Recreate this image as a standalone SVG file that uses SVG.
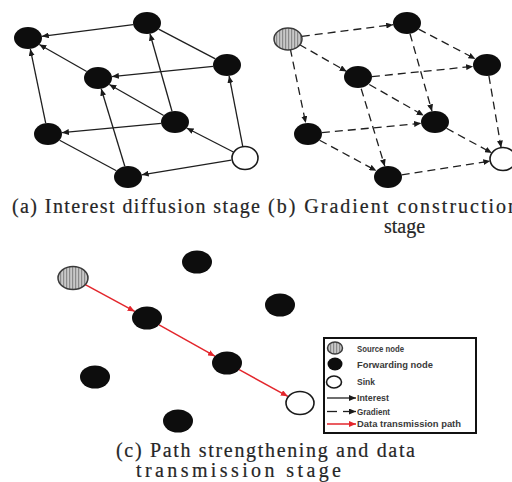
<svg xmlns="http://www.w3.org/2000/svg" width="512" height="482" viewBox="0 0 512 482">
<style>
.fw{fill:#0d0d0d}
.sink{fill:#fff;stroke:#1a1a1a;stroke-width:1.6}
.src{fill:url(#stripes);stroke:#3a3a3a;stroke-width:1.5}
.e{stroke:#1f1f1f;stroke-width:1.3;fill:none}
.ea{stroke:#1f1f1f;stroke-width:1.3;fill:none;marker-end:url(#ah)}
.ed{stroke:#1f1f1f;stroke-width:1.3;fill:none;stroke-dasharray:8 5;marker-end:url(#ah)}
.er{stroke:#e3262c;stroke-width:1.5;fill:none;marker-end:url(#ahr)}
.cap{font-family:"Liberation Serif","Times New Roman",serif;font-size:20px;fill:#262626;stroke:#262626;stroke-width:0.2}
.lg{font-family:"Liberation Sans",Arial,sans-serif;font-size:8.5px;font-weight:bold;fill:#3a3a3a}
</style>
<defs>
<pattern id="stripes" width="3" height="3" patternUnits="userSpaceOnUse">
<rect width="3" height="3" fill="#c8c8c8"/>
<rect width="1.2" height="3" fill="#8a8a8a"/>
</pattern>
<marker id="ah" markerWidth="8" markerHeight="6" refX="7" refY="3" orient="auto" markerUnits="userSpaceOnUse"><path d="M0,0 L7,3 L0,6 z" fill="#1a1a1a"/></marker>
<marker id="ahr" markerWidth="8" markerHeight="6" refX="7" refY="3" orient="auto" markerUnits="userSpaceOnUse"><path d="M0,0 L7,3 L0,6 z" fill="#e3262c"/></marker>
</defs>

<g id="connectors">
<!-- panel a -->
<line class="ea" x1="133.2" y1="24.7" x2="41.8" y2="36.3"/>
<line class="ea" x1="86.7" y1="71.5" x2="39.3" y2="44.5"/>
<line class="ea" x1="45.7" y1="123.1" x2="30.3" y2="48.9"/>
<line class="ea" x1="213.1" y1="66.4" x2="111.9" y2="76.6"/>
<line class="e" x1="158.6" y1="29.1" x2="215.4" y2="58.9"/>
<line class="ea" x1="172" y1="111.3" x2="150" y2="33.7"/>
<line class="ea" x1="163.7" y1="115.5" x2="109.3" y2="84.5"/>
<line class="ea" x1="161.1" y1="123.3" x2="61.9" y2="132.7"/>
<line class="ea" x1="124.8" y1="166.3" x2="101.2" y2="88.7"/>
<line class="e" x1="59.6" y1="140.2" x2="116.4" y2="170.8"/>
<line class="ea" x1="231.3" y1="160.2" x2="141.7" y2="174.8"/>
<line class="ea" x1="233.4" y1="152" x2="186.6" y2="128"/>
<line class="ea" x1="242.9" y1="147.1" x2="229.1" y2="75.9"/>
<!-- panel b -->
<line class="ed" x1="301.8" y1="36.3" x2="393.2" y2="24.7"/>
<line class="ed" x1="299.3" y1="44.5" x2="346.7" y2="71.5"/>
<line class="ed" x1="290.3" y1="48.9" x2="305.7" y2="123.1"/>
<line class="ed" x1="371.9" y1="76.6" x2="473.1" y2="66.4"/>
<line class="ed" x1="418.6" y1="29.1" x2="475.4" y2="58.9"/>
<line class="ed" x1="410" y1="33.7" x2="432" y2="111.3"/>
<line class="ed" x1="369.3" y1="84.5" x2="423.7" y2="115.5"/>
<line class="ed" x1="321.9" y1="132.7" x2="421.1" y2="123.3"/>
<line class="ed" x1="361.2" y1="88.7" x2="384.8" y2="166.3"/>
<line class="ed" x1="319.6" y1="140.2" x2="376.4" y2="170.8"/>
<line class="ed" x1="488.9" y1="75.9" x2="501.1" y2="147.6"/>
<line class="ed" x1="446.5" y1="128.3" x2="491.9" y2="153"/>
<line class="ed" x1="401.7" y1="174.8" x2="490.3" y2="161"/>
<!-- panel c -->
<line class="er" x1="85.3" y1="284.6" x2="134.7" y2="311.4"/>
<line class="er" x1="159.1" y1="324.8" x2="214.9" y2="356.2"/>
<line class="er" x1="239.2" y1="369.7" x2="287.8" y2="396.3"/>
</g>

<!-- panel a nodes -->
<g id="a1"><ellipse class="fw" cx="28" cy="38" rx="14" ry="11"/></g>
<g id="a2"><ellipse class="fw" cx="147" cy="23" rx="14" ry="11"/></g>
<g id="a3"><ellipse class="fw" cx="227" cy="65" rx="14" ry="11"/></g>
<g id="a4"><ellipse class="fw" cx="98" cy="78" rx="14" ry="11"/></g>
<g id="a5"><ellipse class="fw" cx="175" cy="122" rx="14" ry="11"/></g>
<g id="a6"><ellipse class="fw" cx="48" cy="134" rx="14" ry="11"/></g>
<g id="a7"><ellipse class="fw" cx="128" cy="177" rx="14" ry="11"/></g>
<g id="a8"><ellipse class="sink" cx="245" cy="158" rx="13" ry="11.5"/></g>

<!-- panel b nodes -->
<g id="b1"><ellipse class="src" cx="288" cy="39" rx="14" ry="11"/></g>
<g id="b2"><ellipse class="fw" cx="407" cy="23" rx="14" ry="11"/></g>
<g id="b3"><ellipse class="fw" cx="487" cy="65" rx="14" ry="11"/></g>
<g id="b4"><ellipse class="fw" cx="358" cy="77" rx="14" ry="11"/></g>
<g id="b5"><ellipse class="fw" cx="435" cy="122" rx="14" ry="11"/></g>
<g id="b6"><ellipse class="fw" cx="308" cy="134" rx="14" ry="11"/></g>
<g id="b7"><ellipse class="fw" cx="388" cy="177" rx="14" ry="11"/></g>
<g id="b8"><ellipse class="sink" cx="503" cy="159" rx="13" ry="11.5"/></g>

<!-- panel c nodes -->
<g id="c1"><ellipse class="src" cx="73" cy="278" rx="15" ry="11.5"/></g>
<g id="c2"><ellipse class="fw" cx="197" cy="262" rx="15" ry="11.5"/></g>
<g id="c3"><ellipse class="fw" cx="280" cy="305" rx="15" ry="11.5"/></g>
<g id="c4"><ellipse class="fw" cx="147" cy="318" rx="15" ry="11.5"/></g>
<g id="c5"><ellipse class="fw" cx="95" cy="377" rx="15" ry="11.5"/></g>
<g id="c6"><ellipse class="fw" cx="227" cy="363" rx="15" ry="11.5"/></g>
<g id="c7"><ellipse class="sink" cx="300" cy="403" rx="14" ry="11.5"/></g>
<g id="c8"><ellipse class="fw" cx="178" cy="421" rx="15" ry="11.5"/></g>

<!-- legend -->
<g id="legend">
<rect x="324" y="338" width="152" height="95" fill="#fff" stroke="#111" stroke-width="2"/>
<ellipse class="src" cx="335" cy="348" rx="7.5" ry="6"/>
<text class="lg" x="357" y="351.5" textLength="47" lengthAdjust="spacingAndGlyphs">Source node</text>
<ellipse class="fw" cx="335" cy="364" rx="7.5" ry="6.5"/>
<text class="lg" x="357" y="367.5" textLength="76" lengthAdjust="spacingAndGlyphs">Forwarding node</text>
<ellipse class="sink" cx="334" cy="382" rx="7.5" ry="6"/>
<text class="lg" x="357" y="385" textLength="18" lengthAdjust="spacingAndGlyphs">Sink</text>
<line class="ea" x1="327" y1="398" x2="356" y2="398"/>
<text class="lg" x="357" y="401" textLength="32" lengthAdjust="spacingAndGlyphs">Interest</text>
<line class="e" x1="327" y1="411.5" x2="337" y2="411.5"/>
<line class="ea" x1="343" y1="411.5" x2="356" y2="411.5"/>
<text class="lg" x="357" y="414.5" textLength="33" lengthAdjust="spacingAndGlyphs">Gradient</text>
<line class="er" x1="327" y1="424" x2="356" y2="424"/>
<text class="lg" x="357" y="427" textLength="104" lengthAdjust="spacingAndGlyphs">Data transmission path</text>
</g>

<!-- captions -->
<text class="cap" x="12" y="212.5" textLength="248" lengthAdjust="spacing">(a) Interest diffusion stage</text>
<text class="cap" x="268" y="212.5" textLength="250" lengthAdjust="spacing">(b) Gradient construction</text>
<text class="cap" x="384" y="232.5">stage</text>
<text class="cap" x="116" y="456.5" textLength="299" lengthAdjust="spacing">(c) Path strengthening and data</text>
<text class="cap" x="136" y="477" textLength="205" lengthAdjust="spacing">transmission stage</text>
</svg>
